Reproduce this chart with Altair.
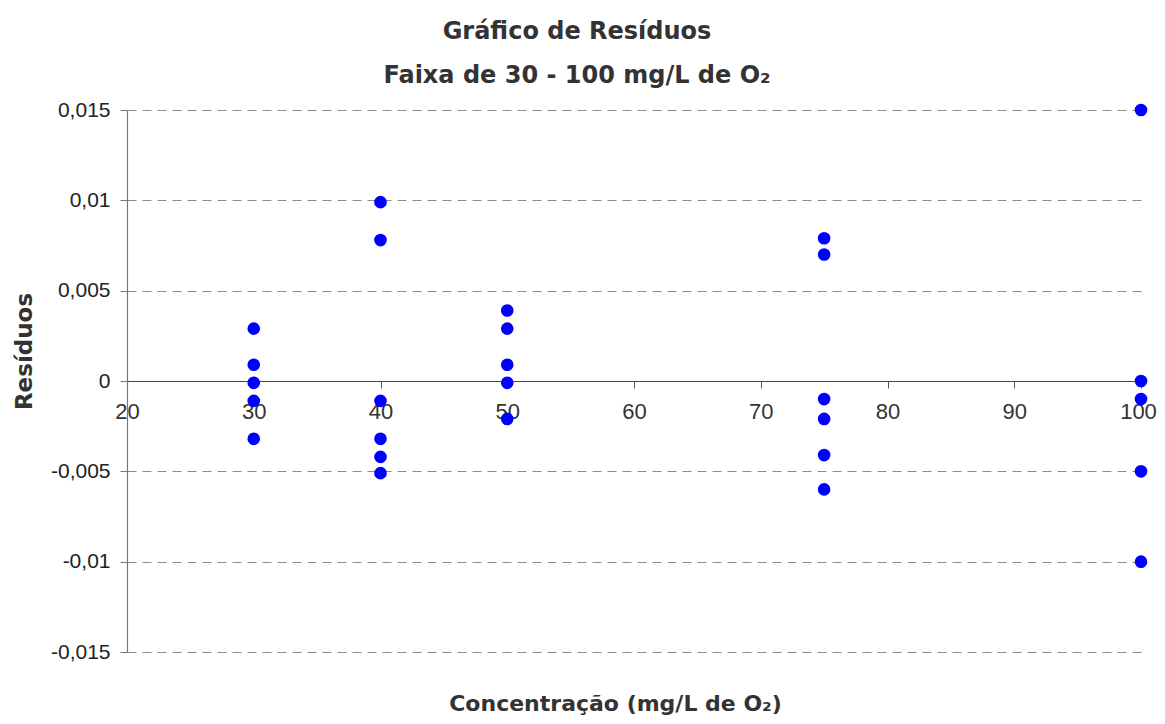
import altair as alt
import pandas as pd

# Concentração (mg/L de O2)
conc = [30, 30, 30, 30, 30,
        40, 40, 40, 40, 40, 40,
        50, 50, 50, 50, 50,
        75, 75, 75, 75, 75, 75,
        100, 100, 100, 100, 100]
# Resíduos
resid = [0.0029, 0.0009, -0.0001, -0.0011, -0.0032,
         0.0099, 0.0078, -0.0011, -0.0032, -0.0042, -0.0051,
         0.0039, 0.0029, 0.0009, -0.0001, -0.0021,
         0.0079, 0.0070, -0.0010, -0.0021, -0.0041, -0.0060,
         0.0150, 0.0000, -0.0010, -0.0050, -0.0100]

x_ticks = [20, 30, 40, 50, 60, 70, 80, 90, 100]
y_ticks = [-0.015, -0.01, -0.005, 0, 0.005, 0.01, 0.015]

df = pd.DataFrame({"conc": conc, "resid": resid})

W, H = 1014, 542
BOLD = "DejaVu Sans"
LAB = "Liberation Sans"

xscale = alt.Scale(domain=[20, 100], nice=False, zero=False)
yscale = alt.Scale(domain=[-0.015, 0.015], nice=False)

yaxis = alt.Axis(
    values=y_ticks,
    labelExpr="replace(toString(datum.value), '.', ',')",
    labelFont=LAB, labelFontSize=21, labelColor="#222",
    labelPadding=10, tickSize=7, tickColor="#777",
    domainColor="#777", domainWidth=1.2,
    grid=True, gridColor="#8c8c8c", gridDash=[9, 6], gridWidth=1,
    title="Resíduos", titleFont=BOLD, titleFontSize=23, titleFontWeight="bold",
    titleColor="#333", titleX=-103, titleY=241, titleBaseline="middle",
    titleAngle=-90,
)

xaxis = alt.Axis(
    orient="bottom", offset=-H / 2, values=x_ticks,
    labelFont=LAB, labelFontSize=22, labelColor="#333",
    labelPadding=13, tickSize=7, tickColor="#555",
    labelOffset={"condition": {"test": "datum.value == 100", "value": -3}, "value": 0},
    domainColor="#444", domainWidth=1.2, grid=False,
    labelFlush=False, labelOverlap=False,
    title="Concentração (mg/L de O₂)", titleFont=BOLD, titleFontSize=22,
    titleFontWeight="bold", titleColor="#333",
    titleX=488, titleY=322, titleBaseline="middle",
)

chart = alt.Chart(df).mark_circle(size=160, color="#0000FF", opacity=1).encode(
    x=alt.X("conc:Q", scale=xscale, axis=xaxis),
    y=alt.Y("resid:Q", scale=yscale, axis=yaxis),
).properties(
    width=W, height=H,
    autosize=alt.AutoSizeParams(type="none"),
    padding={"left": 119, "top": 102, "right": 16, "bottom": 64},
    title=alt.TitleParams(
        text="Gráfico de Resíduos",
        subtitle="Faixa de 30 - 100 mg/L de O₂",
        font=BOLD, fontSize=24, fontWeight="bold", color="#333",
        subtitleFont=BOLD, subtitleFontSize=24, subtitleFontWeight="bold",
        subtitleColor="#333", subtitlePadding=20,
        anchor="middle", frame="group", dx=-57, offset=11,
    ),
).configure(background="white").configure_view(strokeWidth=0, stroke="transparent")

chart.save("out.html", embed_options={"renderer": "svg", "actions": False})
